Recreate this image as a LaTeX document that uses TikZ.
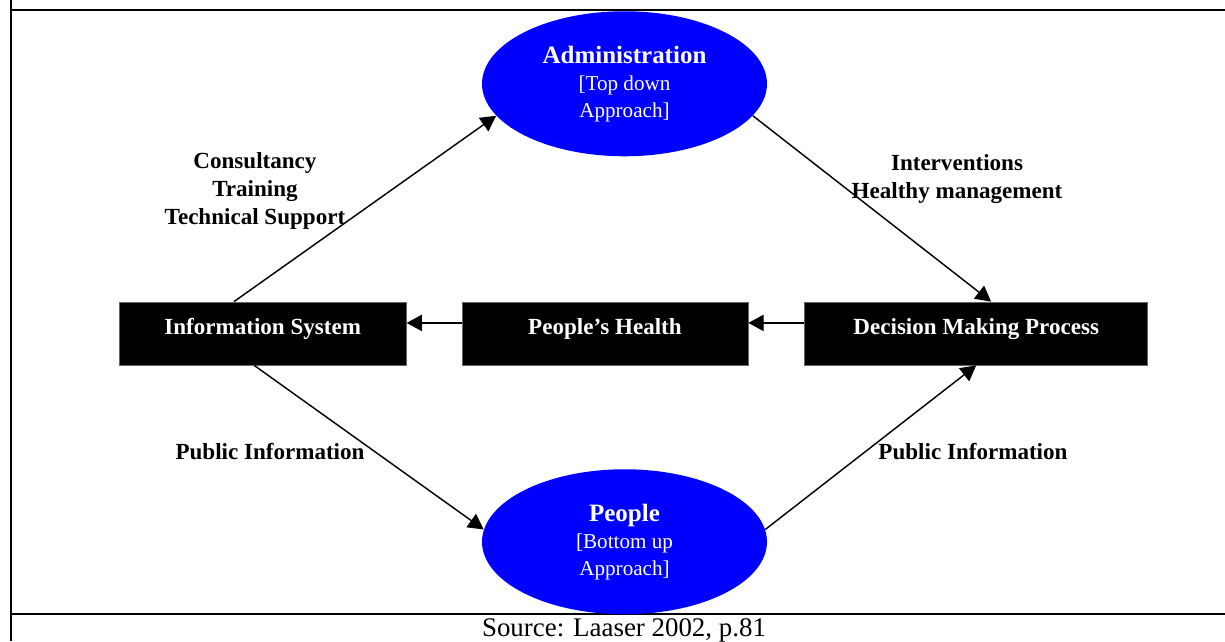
\documentclass[tikz,border=0pt]{standalone}
\usepackage{fontspec}
\setmainfont{Liberation Serif}
\usetikzlibrary{shapes.geometric, arrows.meta, positioning}

\begin{document}
\begin{tikzpicture}[
    >={Triangle[length=8pt, width=8.5pt]},
    % Box styles
    blackbox/.style={rectangle, draw=black!60, fill=black, text=white, font=\bfseries\fontsize{12}{14.5}\selectfont, minimum height=1.152cm, text height=9pt, text depth=7.8pt, inner sep=2pt},
    bluebox/.style={ellipse, fill=blue, text=white, align=center, font=\fontsize{11}{14}\selectfont, minimum width=5.212cm, minimum height=2.652cm, inner sep=1pt},
    flowlabel/.style={align=center, font=\bfseries\fontsize{12}{14.5}\selectfont},
    flow/.style={->, line width=0.75pt},
    frameline/.style={line width=1pt}
]
\useasboundingbox (0,0) rectangle (22.403,11.723);

% -------------------------
% Table frame
% -------------------------
\draw[line width=0.8pt] (0.201,11.723) -- (0.201,0);
\draw[frameline] (0.201,11.540) -- (22.403,11.540);
\draw[frameline] (0.201,0.494) -- (22.403,0.494);

% -------------------------
% Middle row
% -------------------------
\node[blackbox, minimum width=5.23cm] (health) at (11.064,5.624) {People’s Health};
\node[blackbox, minimum width=5.249cm, left=1.006cm of health] (info) {Information System};
\node[blackbox, minimum width=6.273cm, right=1.024cm of health] (dmp) {Decision Making Process};

% -------------------------
% Top and bottom
% -------------------------
\node[bluebox, above=2.651cm of health, xshift=0.357cm] (admin) {
    {\bfseries\fontsize{13}{15}\selectfont Administration}\\
    {[}Top down\\
    Approach{]}
};
\node[bluebox, below=1.893cm of health, xshift=0.357cm] (people) {
    {\bfseries\fontsize{13}{15}\selectfont People}\\
    {[}Bottom up\\
    Approach{]}
};

% Labels
\node[flowlabel] (support) at (4.663,8.229) {Consultancy\\Training\\Technical Support};
\node[flowlabel] (interv) at (17.502,8.449) {Interventions\\Healthy management};
\node[flowlabel] (publeft) at (4.938,3.465) {Public Information};
\node[flowlabel] (pubright) at (17.794,3.465) {Public Information};

% Connections
\draw[flow] ([yshift=5.5pt]dmp.west) -- ([yshift=5.5pt]health.east);
\draw[flow] ([yshift=5.5pt]health.west) -- ([yshift=5.5pt]info.east);
\draw[flow] (info.132) -- (admin.194);
\draw[flow] (admin.-14) -- (dmp.65);
\draw[flow] (info.255) -- (people.175);
\draw[flow] (people.5) -- (dmp.south);

% Source
\node[anchor=base, font=\fontsize{14}{16}\selectfont] (source) at (11.412,0.085) {Source: Laaser 2002, p.81};

\end{tikzpicture}
\end{document}
